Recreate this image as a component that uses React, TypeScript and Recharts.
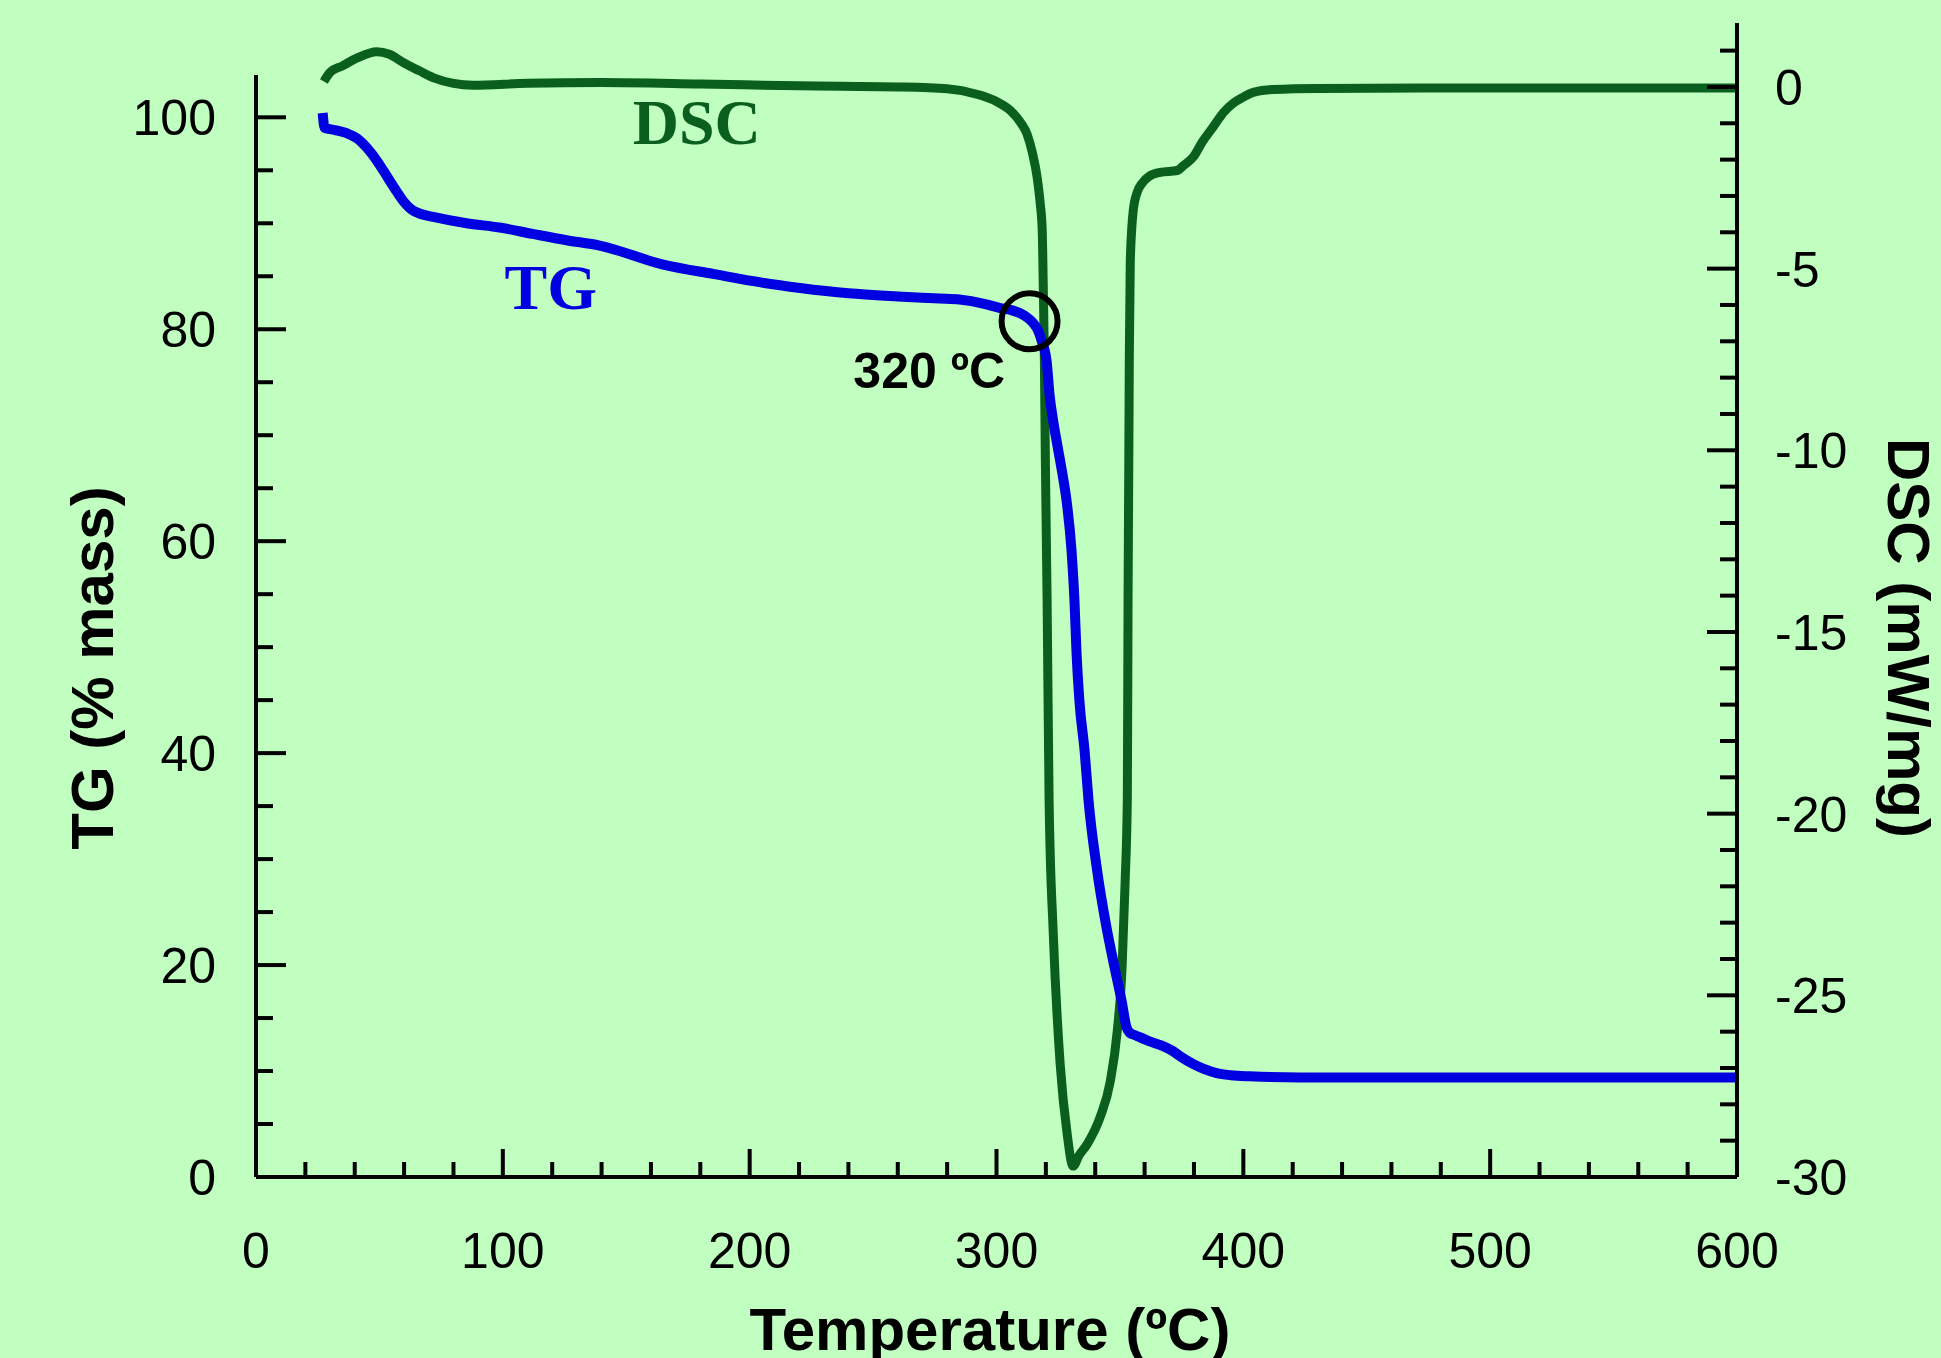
import {
  LineChart,
  Line,
  XAxis,
  YAxis,
  ReferenceDot,
  ReferenceLine,
} from 'recharts';

// TG curve (% mass)
const tgTemperature = [27.0, 27.8, 32, 36.8, 41, 45, 49, 53.4, 57, 60, 63, 66.5, 71.8, 85.3, 98.7, 112, 125.8, 139.2, 165, 185.6, 205, 220.4, 240, 260, 277, 285, 295, 301.5, 306, 309.6, 312.5, 314.8, 316.8, 318.3, 320.3, 321.5, 323, 324.7, 326.6, 328.4, 330.4, 331.6, 332.4, 333.6, 335.7, 337.3, 340.6, 344.6, 347.9, 350.7, 352.7, 354, 356, 362, 367, 371.3, 375, 379.4, 384, 389.2, 395, 402.6, 422.8, 500, 600];
const tgMass = [100.4, 99.0, 98.8, 98.5, 98.0, 97.1, 95.9, 94.3, 93.0, 92.0, 91.3, 90.9, 90.6, 90.0, 89.6, 89.0, 88.4, 87.9, 86.1, 85.2, 84.4, 83.9, 83.4, 83.1, 82.9, 82.8, 82.4, 82.0, 81.8, 81.5, 81.1, 80.6, 79.9, 78.9, 77.0, 73.8, 71.3, 69.0, 66.5, 63.8, 59.1, 54.3, 49.6, 44.9, 40.2, 35.5, 29.2, 23.5, 19.7, 16.6, 14.1, 13.6, 13.4, 12.8, 12.4, 11.9, 11.3, 10.7, 10.2, 9.8, 9.6, 9.5, 9.4, 9.4, 9.4];

// DSC curve (mW/mg)
const dscTemperature = [27.5, 30, 35, 41, 49, 54, 60, 66, 72, 80, 88, 110, 140, 180, 220, 260, 280, 292, 300, 305.5, 310, 312.4, 314.5, 316.5, 317.7, 318.5, 319.0, 319.4, 319.8, 320.5, 321.3, 323, 325.8, 328.6, 331, 333.5, 336.7, 342, 346, 348.9, 350.9, 352.1, 353.0, 353.3, 353.6, 353.8, 354.2, 355.4, 357, 359, 362, 366.3, 373.2, 376, 379.7, 383.5, 387.8, 392, 395.9, 400, 404, 412, 430, 500, 600];
const dscHeatFlow = [0.15, 0.4, 0.58, 0.8, 0.97, 0.9, 0.66, 0.45, 0.25, 0.1, 0.05, 0.1, 0.12, 0.08, 0.03, 0.0, -0.05, -0.2, -0.4, -0.64, -1.0, -1.3, -1.8, -2.5, -3.2, -3.9, -5.7, -7.5, -10.3, -14.1, -19.6, -23.3, -26.9, -28.8, -29.7, -29.4, -29.1, -28.35, -27.4, -26.0, -24.2, -21.9, -19.6, -14.1, -10.3, -7.5, -4.8, -3.4, -2.9, -2.65, -2.45, -2.35, -2.3, -2.15, -1.93, -1.5, -1.1, -0.7, -0.45, -0.28, -0.15, -0.07, -0.04, -0.03, -0.03];

const temperatureTicks = [0, 20, 40, 60, 80, 100, 120, 140, 160, 180, 200, 220, 240, 260, 280, 300, 320, 340, 360, 380, 400, 420, 440, 460, 480, 500, 520, 540, 560, 580, 600];
const tgTicks = [0, 5, 10, 15, 20, 25, 30, 35, 40, 45, 50, 55, 60, 65, 70, 75, 80, 85, 90, 95, 100];
const dscTicks = [-30, -29, -28, -27, -26, -25, -24, -23, -22, -21, -20, -19, -18, -17, -16, -15, -14, -13, -12, -11, -10, -9, -8, -7, -6, -5, -4, -3, -2, -1, 0, 1];

const tgData = tgTemperature.map((t, i) => ({ t, tg: tgMass[i] }));
const dscData = dscTemperature.map((t, i) => ({ t, dsc: dscHeatFlow[i] }));

const BG = '#c0ffc0';
const TG_COLOR = '#0000e0';
const DSC_COLOR = '#0b5f1e';
const SANS = '"Liberation Sans", Arial, sans-serif';
const SERIF = '"Liberation Serif", "Times New Roman", serif';
const AXIS_W = 4;

function XTick({ x, y, payload }: any) {
  const major = payload.value % 100 === 0;
  return (
    <g>
      <line x1={x} x2={x} y1={y} y2={y - (major ? 28 : 15)} stroke="#000" strokeWidth={AXIS_W} />
      {major && (
        <text x={x} y={y + 91} textAnchor="middle" fontSize={50} fontFamily={SANS} fill="#000">
          {payload.value}
        </text>
      )}
    </g>
  );
}

function LeftTick({ x, y, payload }: any) {
  const major = payload.value % 20 === 0;
  return (
    <g>
      <line x1={x} x2={x + (major ? 30 : 17)} y1={y} y2={y} stroke="#000" strokeWidth={AXIS_W} />
      {major && (
        <text x={x - 40} y={y + 18} textAnchor="end" fontSize={50} fontFamily={SANS} fill="#000">
          {payload.value}
        </text>
      )}
    </g>
  );
}

function RightTick({ x, y, payload }: any) {
  const major = payload.value % 5 === 0;
  return (
    <g>
      <line x1={x} x2={x - (major ? 30 : 17)} y1={y} y2={y} stroke="#000" strokeWidth={AXIS_W} />
      {major && (
        <text x={x + 38} y={y + 18} textAnchor="start" fontSize={50} fontFamily={SANS} fill="#000">
          {payload.value}
        </text>
      )}
    </g>
  );
}

function AxisTitle({ tx, ty, rot, text }: any) {
  return (
    <text
      x={tx}
      y={ty}
      transform={rot ? `rotate(${rot}, ${tx}, ${ty})` : undefined}
      textAnchor="middle"
      fontSize={60}
      fontWeight="bold"
      fontFamily={SANS}
      fill="#000"
    >
      {text}
    </text>
  );
}

function textShape(text: string, color: string, size: number, family: string, anchor = 'start') {
  return (p: any) => (
    <text x={p.cx} y={p.cy} textAnchor={anchor} fontSize={size} fontWeight="bold" fontFamily={family} fill={color}>
      {text}
    </text>
  );
}

export default function App() {
  return (
    <div style={{ position: 'absolute', left: 0, top: 0, width: 1941, height: 1358, background: BG }}>
      <LineChart width={1941} height={1358} margin={{ top: 23, right: 0, bottom: 0, left: 0 }}>
        <XAxis
          type="number"
          dataKey="t"
          domain={[0, 600]}
          ticks={temperatureTicks}
          interval={0}
          height={181}
          tickSize={0}
          tickMargin={0}
          tickLine={false}
          axisLine={{ stroke: '#000', strokeWidth: AXIS_W }}
          tick={<XTick />}
          allowDataOverflow
          label={<AxisTitle tx={990} ty={1350} rot={0} text="Temperature (ºC)" />}
        />
        <YAxis
          yAxisId="tg"
          orientation="left"
          domain={[0, 108.9]}
          ticks={tgTicks}
          interval={0}
          width={256}
          tickSize={0}
          tickMargin={0}
          tickLine={false}
          axisLine={false}
          tick={<LeftTick />}
          allowDataOverflow
          label={<AxisTitle tx={113} ty={668} rot={-90} text="TG (% mass)" />}
        />
        <YAxis
          yAxisId="dsc"
          orientation="right"
          domain={[-30, 1.76]}
          ticks={dscTicks}
          interval={0}
          width={204}
          tickSize={0}
          tickMargin={0}
          tickLine={false}
          axisLine={{ stroke: '#000', strokeWidth: AXIS_W }}
          tick={<RightTick />}
          allowDataOverflow
          label={<AxisTitle tx={1888} ty={638} rot={90} text="DSC (mW/mg)" />}
        />
        <ReferenceLine
          yAxisId="tg"
          segment={[{ x: 0, y: 0 }, { x: 0, y: 104 }]}
          stroke="#000"
          strokeWidth={AXIS_W}
          ifOverflow="visible"
        />
        <Line
          yAxisId="dsc"
          data={dscData}
          dataKey="dsc"
          type="monotone"
          stroke={DSC_COLOR}
          strokeWidth={9}
          dot={false}
          isAnimationActive={false}
        />
        <Line
          yAxisId="tg"
          data={tgData}
          dataKey="tg"
          type="monotone"
          stroke={TG_COLOR}
          strokeWidth={10}
          dot={false}
          isAnimationActive={false}
        />
        <ReferenceDot
          yAxisId="tg"
          x={313.4}
          y={80.75}
          r={28}
          fill="none"
          stroke="#000"
          strokeWidth={6}
          ifOverflow="visible"
        />
        <ReferenceDot yAxisId="tg" x={242} y={74.5} r={0} ifOverflow="visible" shape={textShape('320 ºC', '#000', 50, SANS)} />
        <ReferenceDot yAxisId="tg" x={152.6} y={97.5} r={0} ifOverflow="visible" shape={textShape('DSC', DSC_COLOR, 64, SERIF)} />
        <ReferenceDot yAxisId="tg" x={100.7} y={81.9} r={0} ifOverflow="visible" shape={textShape('TG', TG_COLOR, 64, SERIF)} />
      </LineChart>
    </div>
  );
}
